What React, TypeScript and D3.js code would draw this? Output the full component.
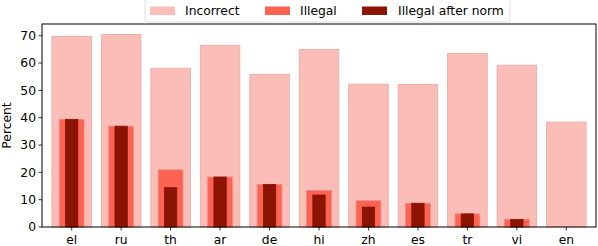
import React from "react";
import * as d3 from "d3";

const languages = ["el", "ru", "th", "ar", "de", "hi", "zh", "es", "tr", "vi", "en"];
const incorrect = [69.8, 70.5, 58.1, 66.5, 55.9, 65.0, 52.3, 52.2, 63.5, 59.2, 38.4];
const illegal = [39.4, 36.9, 20.9, 18.3, 15.6, 13.4, 9.6, 8.7, 4.8, 2.8, 0];
const illegalNorm = [39.4, 36.9, 14.4, 18.3, 15.6, 11.7, 7.3, 8.7, 4.8, 2.8, 0];
const yTickValues = [0, 10, 20, 30, 40, 50, 60, 70];
const legendLabels = ["Incorrect", "Illegal", "Illegal after norm"];

const width = 598, height = 246;
const left = 42, right = 596, top = 24, bottom = 227;
const font = "DejaVu Sans, sans-serif";

const colIncorrect = "#fbbdb7";
const colIllegal = "#fc6353";
const colNorm = "#8c1404";

const App = () => {
  const x = d3.scaleLinear().domain([-0.6, languages.length - 0.4]).range([left, right]);
  const y = d3.scaleLinear().domain([0, 74.3]).range([bottom, top]);
  const step = x(1) - x(0);

  const bars = (vals: number[], w: number, fill: string, stroke: string) =>
    vals.map((v, i) => (
      <rect key={i}
        x={x(i) - (w * step) / 2} width={w * step}
        y={y(v)} height={bottom - y(v)}
        fill={fill} stroke={stroke} strokeWidth={0.8} />
    ));

  // legend entries: patch x start, text x start
  const legendItems = [
    { patch: 150, text: 185, color: colIncorrect },
    { patch: 265, text: 300, color: colIllegal },
    { patch: 362, text: 398, color: colNorm },
  ];

  return (
    <svg width={width} height={height} style={{ position: "absolute", left: 0, top: 0 }} fontFamily={font}>
      <rect width={width} height={height} fill="white" />
      {bars(incorrect, 0.8, colIncorrect, "#e8a8a2")}
      {bars(illegal, 0.5, colIllegal, "#ec8a80")}
      {bars(illegalNorm, 0.25, colNorm, "#8c1404")}

      <rect x={left} y={top} width={right - left} height={bottom - top} fill="none" stroke="black" strokeWidth={1} />

      {yTickValues.map(d => (
        <g key={d} transform={`translate(${left},${y(d)})`}>
          <line x1={-3.5} x2={0} stroke="black" strokeWidth={0.8} />
          <text x={-6} dy="0.35em" textAnchor="end" fontSize={12.3}>{d}</text>
        </g>
      ))}
      {languages.map((l, i) => (
        <g key={l} transform={`translate(${x(i)},${bottom})`}>
          <line y1={0} y2={3.5} stroke="black" strokeWidth={0.8} />
          <text y={17} textAnchor="middle" fontSize={12.3}>{l}</text>
        </g>
      ))}
      <text transform={`translate(11,${(top + bottom) / 2}) rotate(-90)`} textAnchor="middle" fontSize={12.3}>Percent</text>

      <rect x={145} y={-5} width={365} height={27} rx={2.5} fill="white" fillOpacity={0.85} stroke="#d6d6d6" strokeWidth={0.8} />
      {legendItems.map((it, i) => (
        <g key={i}>
          <rect x={it.patch} y={6.5} width={25} height={8.5} fill={it.color} />
          <text x={it.text} y={10.8} dy="0.35em" fontSize={12.3}>{legendLabels[i]}</text>
        </g>
      ))}
    </svg>
  );
};

export default App;
